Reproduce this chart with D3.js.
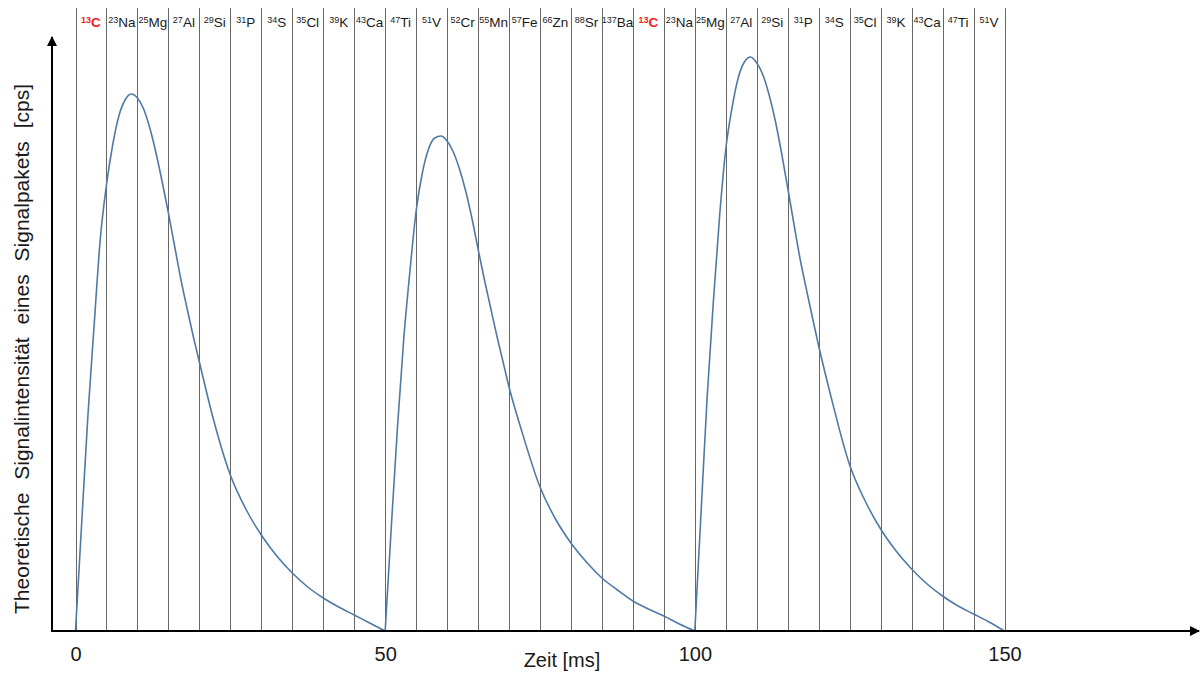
<!DOCTYPE html>
<html>
<head>
<meta charset="utf-8">
<script src="https://cdn.jsdelivr.net/npm/d3@7"></script>
<style>
  html, body { margin: 0; padding: 0; background: #fff; }
  svg { display: block; font-family: "Liberation Sans", Arial, sans-serif; }
</style>
</head>
<body>
<svg id="chart" width="1200" height="673"></svg>
<script>
// ---- data ----
const xTicks = [0, 50, 100, 150];
const gridTimes = d3.range(0, 151, 5);
const isotopeMass = ["13","23","25","27","29","31","34","35","39","43","47","51","52","55","57","66","88","137","13","23","25","27","29","31","34","35","39","43","47","51"];
const isotopeElem = ["C","Na","Mg","Al","Si","P","S","Cl","K","Ca","Ti","V","Cr","Mn","Fe","Zn","Sr","Ba","C","Na","Mg","Al","Si","P","S","Cl","K","Ca","Ti","V"];
const isotopeHighlight = ["13C"];

const peak1Time = [0,1,2,3,4,5,6,7,8,9,10,11,12,13,14,15,16,17,18,19,20,22,25,27.5,30,32.5,35,37.5,40,42.5,45,47.5,50];
const peak1Value = [0,108,215,305,392,446,486,515,531,537,533,522,503,478,449,418,385,352,323,295,269,218,156,122,96,75,58,44,33,24,16,8,0];

const peak2Time = [50,51,52,53,54,55,56,57,58,59,60,61,62,63,64,65,66,67,68,69,70,72,75,77.5,80,82.5,85,87.5,90,92.5,95,97.5,100];
const peak2Value = [0,105,205,292,360,420,458,482,493,495,490,479,462,440,413,382,352,324,296,270,244,201,144,112,88,69,53,41,30,22,15,7,0];

const peak3Time = [100,101,102,103,104,105,106,107,108,109,110,111,112,113,114,115,116,117,118,119,120,122,125,127.5,130,132.5,135,137.5,140,142.5,145,147.5,150];
const peak3Value = [0,118,235,330,415,482,523,553,569,574,568,556,536,510,478,443,407,372,342,313,285,234,166,130,102,80,62,47,35,25,17,9,0];

const xLabel = "Zeit [ms]";
const yLabel = "Theoretische Signalintensität eines Signalpakets [cps]";

// ---- layout ----
const svg = d3.select("#chart");
const x = d3.scaleLinear().domain([0, 150]).range([75.5, 1004.5]);
const y = d3.scaleLinear().domain([0, 600]).range([631, 31]);

// grid lines
svg.append("g").selectAll("line").data(gridTimes).join("line")
  .attr("x1", d => Math.round(x(d)) + 0.5).attr("x2", d => Math.round(x(d)) + 0.5)
  .attr("y1", 8).attr("y2", y(0))
  .attr("stroke", "#666").attr("stroke-width", 1);

// isotope labels
const labG = svg.append("g");
isotopeElem.forEach((el, i) => {
  const cx = (x(gridTimes[i]) + x(gridTimes[i + 1])) / 2;
  const hl = isotopeHighlight.includes(isotopeMass[i] + el);
  const t = labG.append("text")
    .attr("x", cx).attr("y", 27)
    .attr("text-anchor", "middle")
    .attr("fill", hl ? "#ee1c1c" : "#1a1a1a")
    .attr("font-weight", hl ? "bold" : "normal")
    .attr("font-size", 13.5);
  t.append("tspan").attr("font-size", 9).attr("dy", -4).text(isotopeMass[i]);
  t.append("tspan").attr("dy", 4).text(el);
});

// curves
const line = d3.line().x(d => x(d[0])).y(d => y(d[1])).curve(d3.curveMonotoneX);
[[peak1Time, peak1Value], [peak2Time, peak2Value], [peak3Time, peak3Value]].forEach(([ts, vs]) => {
  svg.append("path")
    .datum(ts.map((t, i) => [t, vs[i]]))
    .attr("d", line)
    .attr("fill", "none")
    .attr("stroke", "#4f7aa6")
    .attr("stroke-width", 1.6);
});

// axes
const defs = svg.append("defs");
defs.append("marker").attr("id", "arrow")
  .attr("viewBox", "0 0 10 10").attr("refX", 9).attr("refY", 5)
  .attr("markerWidth", 10).attr("markerHeight", 10).attr("markerUnits", "userSpaceOnUse")
  .attr("orient", "auto")
  .append("path").attr("d", "M0,0 L10,5 L0,10 z").attr("fill", "#000");

svg.append("line").attr("x1", 52).attr("x2", 1199).attr("y1", y(0)).attr("y2", y(0))
  .attr("stroke", "#000").attr("stroke-width", 2).attr("marker-end", "url(#arrow)");
svg.append("line").attr("x1", 52).attr("x2", 52).attr("y1", y(0) + 1).attr("y2", 37)
  .attr("stroke", "#000").attr("stroke-width", 2).attr("marker-end", "url(#arrow)");

// tick labels
const xAxis = d3.axisBottom(x).tickValues(xTicks).tickSize(0).tickPadding(0).tickFormat(d3.format("d"));
const axG = svg.append("g").attr("transform", `translate(0,${y(0)})`).call(xAxis);
axG.select(".domain").remove();
axG.selectAll("text").attr("font-size", 20).attr("fill", "#1a1a1a")
  .attr("font-family", "\"Liberation Sans\", Arial, sans-serif")
  .attr("dy", null).attr("y", 30);

// axis titles
svg.append("text").attr("x", 562).attr("y", 667).attr("text-anchor", "middle")
  .attr("font-size", 20).attr("fill", "#1a1a1a").text(xLabel);
svg.append("text").attr("transform", "translate(29,349) rotate(-90)")
  .attr("text-anchor", "middle").attr("font-size", 21).attr("fill", "#1a1a1a")
  .style("word-spacing", "7px").text(yLabel);
</script>
</body>
</html>
